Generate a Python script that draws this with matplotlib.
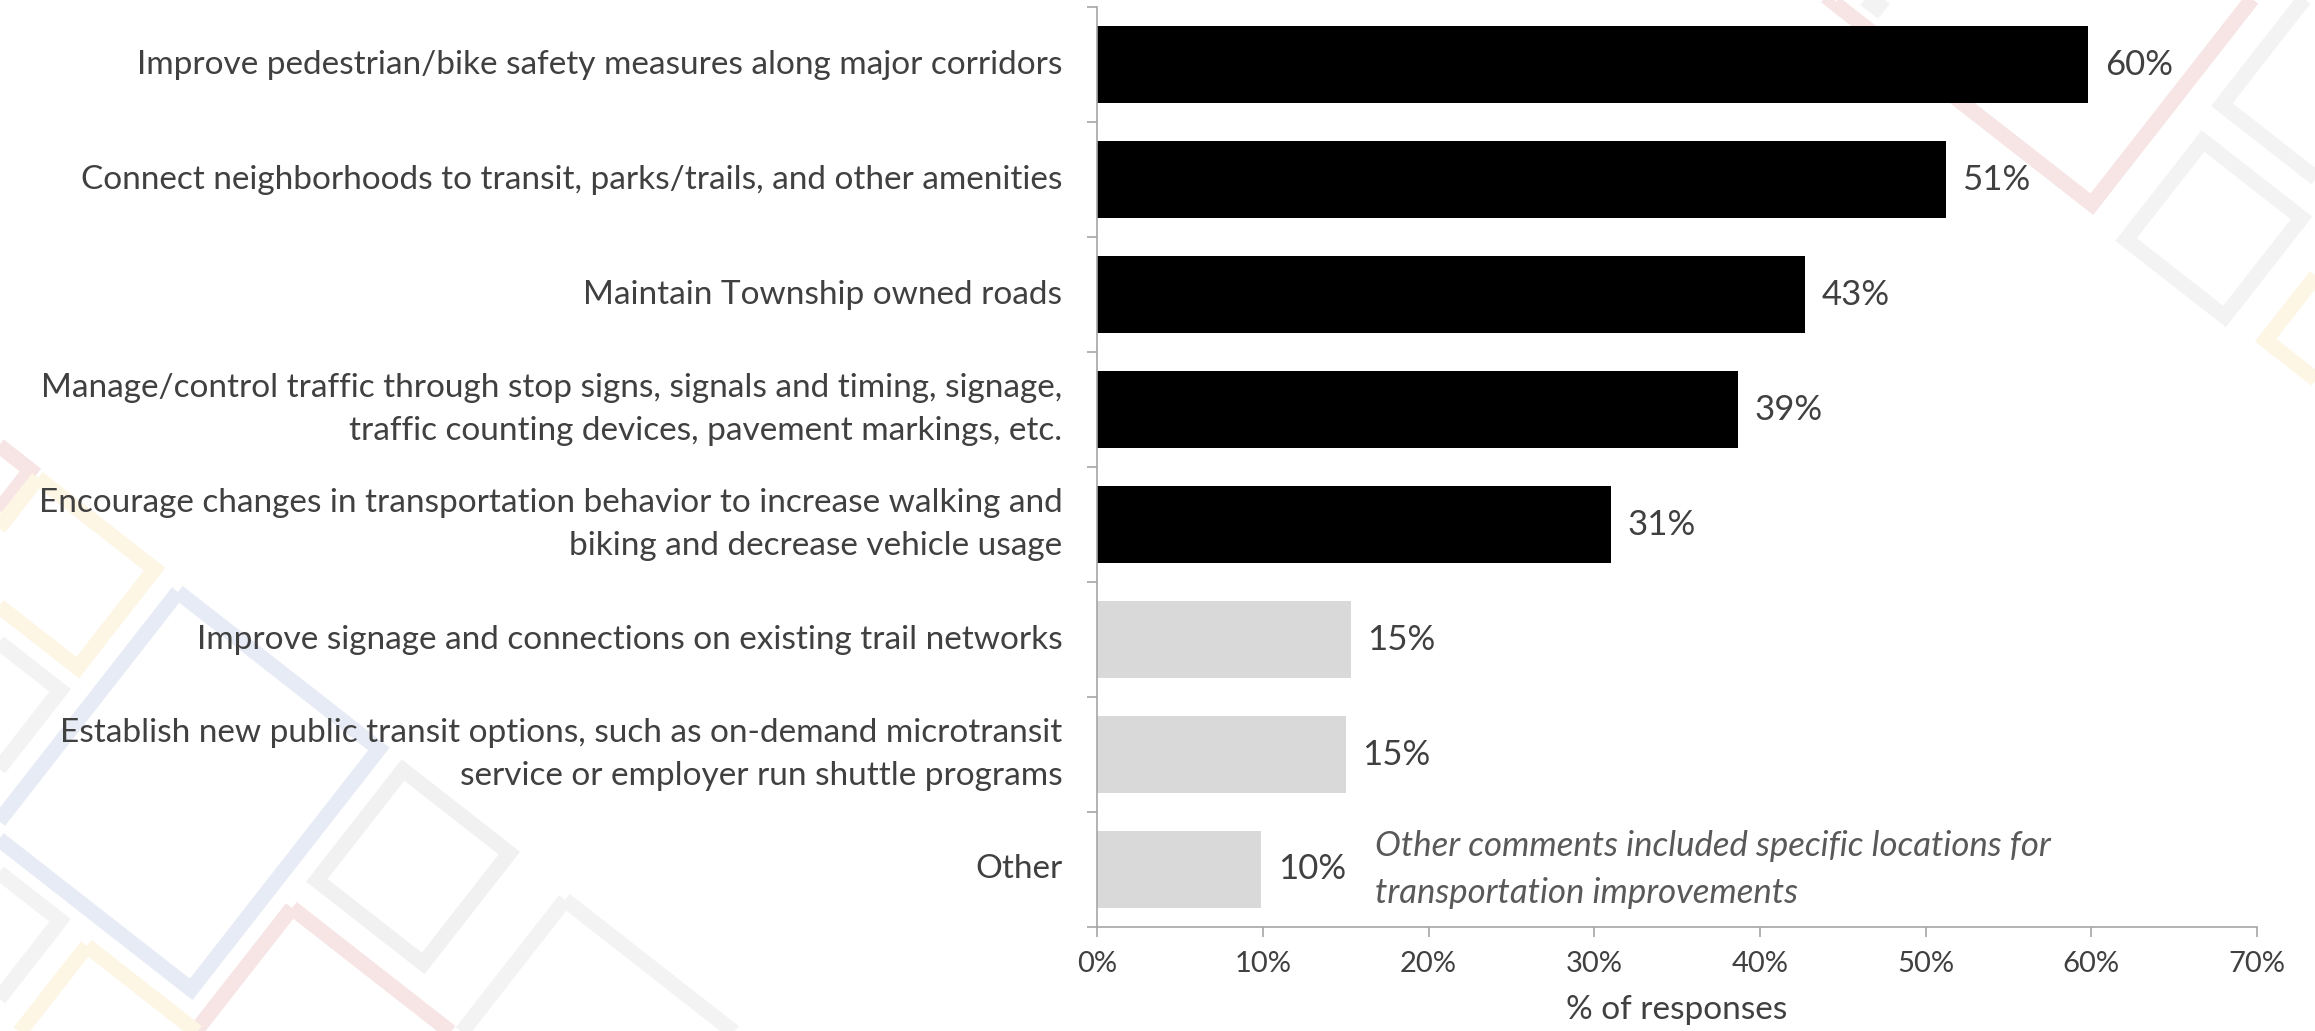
import numpy as np
import matplotlib.pyplot as plt
from matplotlib.patches import Polygon


# -----------------------------
# Data
# -----------------------------
categories = [
    "Improve pedestrian/bike safety measures along major corridors",
    "Connect neighborhoods to transit, parks/trails, and other amenities",
    "Maintain Township owned roads",
    "Manage/control traffic through stop signs, signals and timing, signage,\ntraffic counting devices, pavement markings, etc.",
    "Encourage changes in transportation behavior to increase walking and\nbiking and decrease vehicle usage",
    "Improve signage and connections on existing trail networks",
    "Establish new public transit options, such as on-demand microtransit\nservice or employer run shuttle programs",
    "Other",
]
values = [59.8, 51.2, 42.7, 38.7, 31.0, 15.3, 15.0, 9.9]
highlighted = [True, True, True, True, True, False, False, False]
x_ticks = [0, 10, 20, 30, 40, 50, 60, 70]
note = "Other comments included specific locations for\ntransportation improvements"

# background frames: top corner (px from top-left), two side lengths, colour
frames = [
    (2035, -259, 330, 330, "#f7e4e4"),
    (2203, 141, 125, 125, "#f3f3f3"),
    (2345, -53, 200, 200, "#f3f3f3"),
    (1825, -413, 300, 300, "#f3f3f3"),
    (2358, 222, 150, 150, "#fef6e4"),
    (-72, 390, 130, 150, "#f7e4e4"),
    (38, 478, 148, 125, "#fef6e4"),
    (-58, 598, 150, 150, "#f3f3f3"),
    (-58, 828, 150, 150, "#f3f3f3"),
    (178, 592, 255, 305, "#e7ebf5"),
    (403, 770, 135, 140, "#f1f1f1"),
    (292, 908, 250, 250, "#f7e4e4"),
    (565, 900, 250, 250, "#f3f3f3"),
    (87, 946, 200, 200, "#fef6e4"),
]

TEXT = "#404040"
W, H = 2315, 1031
ANGLE = np.radians(38)

plt.rcParams["font.family"] = ["Lato", "DejaVu Sans"]

fig = plt.figure(figsize=(W / 100, H / 100), dpi=100)

# decorative rotated frames behind the chart
u = np.array([np.cos(ANGLE), np.sin(ANGLE)])
v = np.array([-np.sin(ANGLE), np.cos(ANGLE)])
for tx, ty, a, b, col in frames:
    top = np.array([tx, ty])
    pts = [top, top + a * u, top + a * u + b * v, top + b * v]
    pts = [(p[0], H - p[1]) for p in pts]
    fig.patches.append(Polygon(pts, closed=True, fill=False, edgecolor=col,
                               linewidth=11, joinstyle="miter",
                               transform=None, zorder=-5))

ax = fig.add_axes([0.4739, 0.1009, 0.5011, 0.8921])
ax.patch.set_alpha(0)

colors = ["#000000" if h else "#d9d9d9" for h in highlighted]
ypos = list(range(len(categories)))
ax.barh(ypos, values, height=0.67, color=colors, zorder=2)

for y, val in zip(ypos, values):
    ax.text(val + 1.0, y, f"{round(val)}%", va="center", ha="left",
            fontsize=25, color=TEXT)

ax.text(16.8, 7, note, va="center", ha="left", fontsize=25,
        style="italic", color="#595959", linespacing=1.55)

ax.set_ylim(7.5, -0.5)
ax.set_xlim(0, 70)

# category labels at bar centres, tick marks at the boundaries
ax.set_yticks([i - 0.5 for i in range(len(categories) + 1)])
ax.set_yticklabels([])
ax.tick_params(axis="y", length=7, color="#a6a6a6", width=1.2)
for y, lab in zip(ypos, categories):
    ax.annotate(lab, xy=(0, y), xycoords=("axes fraction", "data"),
                xytext=(-25, 0), textcoords="offset points",
                ha="right", va="center", fontsize=24, color=TEXT,
                linespacing=1.55)

ax.set_xticks(x_ticks)
ax.set_xticklabels([f"{t}%" for t in x_ticks])
ax.tick_params(axis="x", length=7, color="#a6a6a6", width=1.2,
               labelsize=21, labelcolor=TEXT, pad=10)
ax.set_xlabel("% of responses", fontsize=24, color=TEXT, labelpad=13)

for side in ["top", "right"]:
    ax.spines[side].set_visible(False)
for side in ["left", "bottom"]:
    ax.spines[side].set_color("#a6a6a6")
    ax.spines[side].set_linewidth(1.2)

fig.savefig("out.png", dpi=100)
